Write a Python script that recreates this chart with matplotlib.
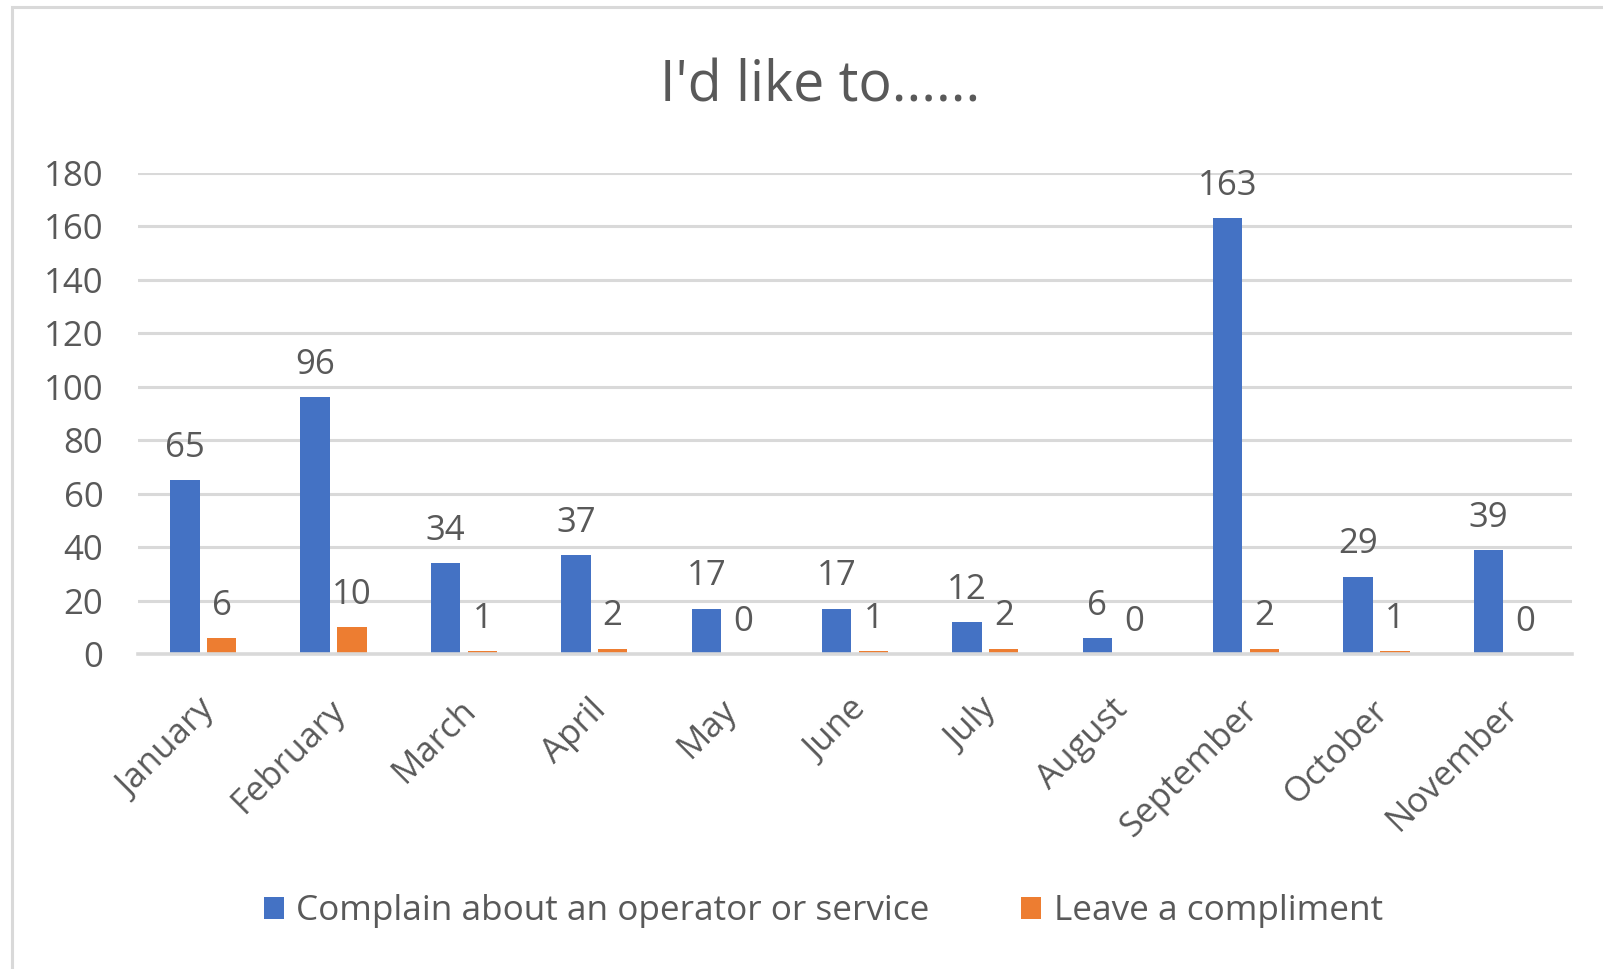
import numpy as np
import matplotlib
matplotlib.use('Agg')
import matplotlib.pyplot as plt
from matplotlib.patches import Rectangle

months = ['January', 'February', 'March', 'April', 'May', 'June', 'July',
          'August', 'September', 'October', 'November']
complain = [65, 96, 34, 37, 17, 17, 12, 6, 163, 29, 39]
compliment = [6, 10, 1, 2, 0, 1, 2, 0, 2, 1, 0]
series_names = ['Complain about an operator or service', 'Leave a compliment']

BLUE = '#4472C4'
ORANGE = '#ED7D31'
TEXT = '#595959'
GRID = '#D9D9D9'

plt.rcParams['font.family'] = ['Open Sans', 'DejaVu Sans']

fig = plt.figure(figsize=(16.03, 9.69), dpi=100)
ax = fig.add_axes([138 / 1603, 1 - 654 / 969, (1572 - 138) / 1603, (654 - 173) / 969])

x = np.arange(len(months))
w = 0.226
off = 0.141
b1 = ax.bar(x - off, complain, w, color=BLUE, label=series_names[0], zorder=3)
b2 = ax.bar(x + off, compliment, w, color=ORANGE, label=series_names[1], zorder=3)

ax.bar_label(b1, padding=11, fontsize=25, color=TEXT)
ax.bar_label(b2, padding=11, fontsize=25, color=TEXT)

ax.set_xlim(-0.5, len(months) - 0.5)
ax.set_ylim(0, 180)
ax.set_yticks(np.arange(0, 181, 20))
ax.yaxis.grid(True, color=GRID, linewidth=2.2, zorder=0)
ax.set_axisbelow(True)
# baseline sits on top of the bars, like excel
ax.axhline(0, color=GRID, linewidth=2.6, zorder=4, clip_on=False)
for s in ax.spines.values():
    s.set_visible(False)

# ticks are hidden, nudge label anchors a little left of the group centre
ax.set_xticks(x - 0.04)
ax.set_xticklabels(months, rotation=45, ha='right', rotation_mode='anchor',
                   fontsize=25, color=TEXT)
ax.tick_params(axis='x', length=0, pad=28)
ax.tick_params(axis='y', length=0, pad=25, labelsize=25, labelcolor=TEXT)

fig.text(0.5115, 1 - 102 / 969, "I'd like to......", fontsize=40, color=TEXT,
         ha='center', va='baseline')

fig.legend(loc='center', bbox_to_anchor=(0.5135, 1 - 911 / 969), ncol=2,
           frameon=False, fontsize=25.3, labelcolor=TEXT,
           handlelength=0.58, handleheight=0.58, handletextpad=0.35,
           columnspacing=2.6)

# chart border (right and bottom cut off in the screenshot)
fig.patches.append(Rectangle((12 / 1603, -0.1), 1.2, 1 - 7 / 969 + 0.1,
                             transform=fig.transFigure, fill=False,
                             edgecolor=GRID, linewidth=2.2, clip_on=False))

fig.savefig('out.png', dpi=100)
